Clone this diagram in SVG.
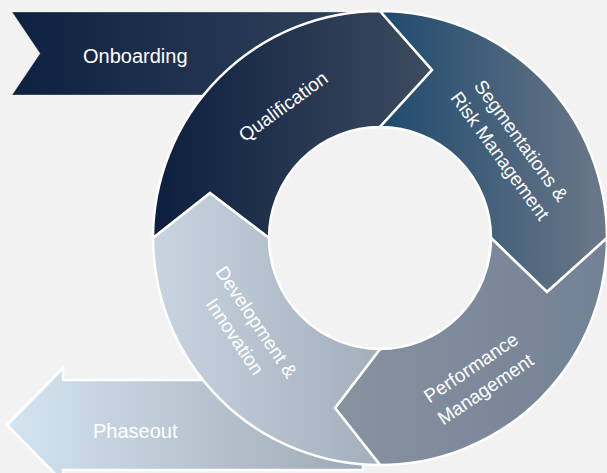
<svg xmlns="http://www.w3.org/2000/svg" width="607" height="473" viewBox="0 0 607 473">
<defs>
<linearGradient id="gOn" x1="0" y1="0" x2="1" y2="0"><stop offset="0" stop-color="#0d2140"/><stop offset="1" stop-color="#33445d"/></linearGradient>
<linearGradient id="gQu" x1="0" y1="0" x2="1" y2="0"><stop offset="0" stop-color="#0c1f3e"/><stop offset="1" stop-color="#3e4b60"/></linearGradient>
<linearGradient id="gSe" x1="0" y1="0" x2="1" y2="0"><stop offset="0" stop-color="#1e4a6e"/><stop offset="1" stop-color="#6c7888"/></linearGradient>
<linearGradient id="gPe" x1="0" y1="0" x2="1" y2="0"><stop offset="0" stop-color="#8893a1"/><stop offset="1" stop-color="#738195"/></linearGradient>
<linearGradient id="gDe" x1="0" y1="0" x2="1" y2="0"><stop offset="0" stop-color="#c7d5e1"/><stop offset="1" stop-color="#a3aebb"/></linearGradient>
<linearGradient id="gPh" x1="0" y1="0" x2="1" y2="0"><stop offset="0" stop-color="#d4e4f0"/><stop offset="1" stop-color="#9ea9b5"/></linearGradient>
</defs>
<style>
.seg{stroke:#ffffff;stroke-width:2.5;stroke-linejoin:miter}
.lbl{font-family:"Liberation Sans",Arial,sans-serif;fill:#ffffff}
.big{font-size:20px}
.rot{font-size:19px;text-anchor:middle}
</style>
<rect width="607" height="473" fill="#f2f2f2"/>
<g id="onboarding">
<path d="M12,12 L380,12 L380,95 L12,95 L40,53.5 Z" fill="url(#gOn)" stroke="#ffffff" stroke-opacity="0.3" stroke-width="1"/>
<text class="lbl big" x="83" y="63">Onboarding</text>
</g>
<g id="phaseout">
<path class="seg" d="M7,425 L63,368 L63,380 L363,380 L363,470 L63,470 L63,482 Z" fill="url(#gPh)"/>
<text class="lbl big" x="93" y="438">Phaseout</text>
</g>
<g id="qualification">
<path class="seg" d="M153,238 A227,227 0 0 1 380,11 L432,70 L380,127 A111,111 0 0 0 269,238 L210,193 Z" fill="url(#gQu)"/>
<text class="lbl rot" transform="translate(283,106) rotate(-36)" y="7">Qualification</text>
</g>
<g id="segmentations">
<path class="seg" d="M380,11 A227,227 0 0 1 607,238 L547,292 L491,238 A111,111 0 0 0 380,127 L432,70 Z" fill="url(#gSe)"/>
<text class="lbl rot" transform="translate(511,148) rotate(54)"><tspan x="0" y="-6">Segmentations &amp;</tspan><tspan x="0" y="20">Risk Management</tspan></text>
</g>
<g id="performance">
<path class="seg" d="M607,238 A227,227 0 0 1 380,465 L335,408 L380,349 A111,111 0 0 0 491,238 L547,292 Z" fill="url(#gPe)"/>
<text class="lbl rot" transform="translate(478,378) rotate(-34)"><tspan x="0" y="-6">Performance</tspan><tspan x="0" y="20">Management</tspan></text>
</g>
<g id="development">
<path class="seg" d="M380,465 A227,227 0 0 1 153,238 L210,193 L269,238 A111,111 0 0 0 380,349 L335,408 Z" fill="url(#gDe)"/>
<text class="lbl rot" transform="translate(246,329) rotate(56)"><tspan x="0" y="-6">Development &amp;</tspan><tspan x="0" y="20">Innovation</tspan></text>
</g>
<g id="connectors"></g>
</svg>
